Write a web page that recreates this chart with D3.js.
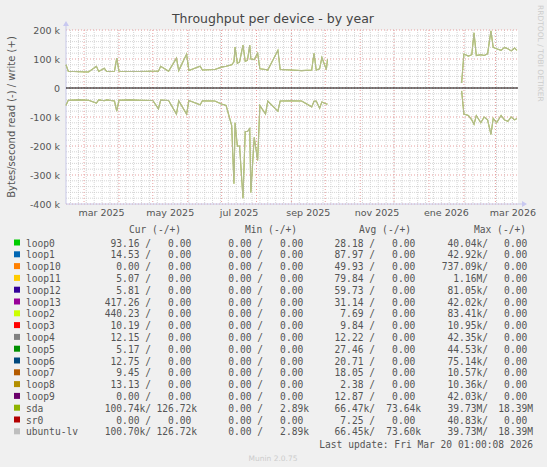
<!DOCTYPE html>
<html><head><meta charset="utf-8">
<script src="https://cdn.jsdelivr.net/npm/d3@7/dist/d3.min.js"></script>
<style>body{margin:0;background:#f0f0f0}svg{display:block}</style>
</head><body><svg id="c" width="547" height="467"></svg>
<script>
// ---- data ----
const dates = ["2025-02-13","2025-02-15","2025-02-25","2025-03-05","2025-03-12","2025-03-14","2025-03-19","2025-03-21","2025-03-28","2025-03-30","2025-04-01","2025-04-10","2025-04-20","2025-05-01","2025-05-06","2025-05-08","2025-05-15","2025-05-22","2025-05-24","2025-05-31","2025-06-02","2025-06-12","2025-06-14","2025-06-25","2025-07-01","2025-07-05","2025-07-10","2025-07-12","2025-07-13","2025-07-15","2025-07-17","2025-07-20","2025-07-22","2025-07-24","2025-07-26","2025-07-27","2025-07-30","2025-08-02","2025-08-04","2025-08-09","2025-08-11","2025-08-20","2025-08-22","2025-09-01","2025-09-10","2025-09-19","2025-09-21","2025-09-23","2025-09-26","2025-09-28","2025-10-02","2025-10-03",
"2026-01-29","2026-01-30","2026-02-01","2026-02-05","2026-02-08","2026-02-10","2026-02-12","2026-02-16","2026-02-19","2026-02-22","2026-02-25","2026-02-27","2026-03-02","2026-03-06","2026-03-09","2026-03-12","2026-03-15","2026-03-18","2026-03-20"];
const writeK = [80,58,56,55,75,57,68,57,58,103,58,57,57,58,58,75,58,103,60,117,60,75,62,64,72,75,80,90,141,85,90,148,92,95,148,100,98,120,66,64,62,130,64,62,60,62,120,62,66,105,64,100,
null,17,117,110,115,190,112,115,112,118,197,140,135,130,140,135,128,138,130];
const readK = [-60,-42,-41,-42,-52,-41,-44,-41,-45,-80,-42,-41,-42,-43,-72,-42,-43,-90,-44,-90,-43,-58,-44,-45,-55,-60,-130,-330,-120,-200,-200,-380,-150,-150,-140,-360,-170,-250,-60,-90,-45,-80,-45,-44,-45,-65,-46,-45,-70,-48,-55,-55,
null,-10,-90,-95,-110,-125,-95,-120,-100,-110,-160,-105,-120,-95,-110,-115,-100,-110,-105];
const yTicks = [200,100,0,-100,-200,-300,-400];
const xTickLabels = ["mar 2025","may 2025","jul 2025","sep 2025","nov 2025","ene 2026","mar 2026"];
const xTickMonths = ["2025-03-01","2025-05-01","2025-07-01","2025-09-01","2025-11-01","2026-01-01","2026-03-01"];
const devices = ["loop0","loop1","loop10","loop11","loop12","loop13","loop2","loop3","loop4","loop5","loop6","loop7","loop8","loop9","sda","sr0","ubuntu-lv"];
const colors = ["#00CC00","#0066B3","#FF8000","#FFCC00","#330099","#990099","#CCFF00","#FF0000","#808080","#008F00","#00487D","#B35A00","#B38F00","#6B006B","#8FB300","#B30000","#BEBEBE"];
const cur = [["93.16","0.00"],["14.53","0.00"],["0.00","0.00"],["5.07","0.00"],["5.81","0.00"],["417.26","0.00"],["440.23","0.00"],["10.19","0.00"],["12.15","0.00"],["5.17","0.00"],["12.75","0.00"],["9.45","0.00"],["13.13","0.00"],["0.00","0.00"],["100.74k","126.72k"],["0.00","0.00"],["100.70k","126.72k"]];
const mins = [["0.00","0.00"],["0.00","0.00"],["0.00","0.00"],["0.00","0.00"],["0.00","0.00"],["0.00","0.00"],["0.00","0.00"],["0.00","0.00"],["0.00","0.00"],["0.00","0.00"],["0.00","0.00"],["0.00","0.00"],["0.00","0.00"],["0.00","0.00"],["0.00","2.89k"],["0.00","0.00"],["0.00","2.89k"]];
const avgs = [["28.18","0.00"],["87.97","0.00"],["49.93","0.00"],["79.84","0.00"],["59.73","0.00"],["31.14","0.00"],["7.69","0.00"],["9.84","0.00"],["12.22","0.00"],["27.46","0.00"],["20.71","0.00"],["18.05","0.00"],["2.38","0.00"],["12.87","0.00"],["66.47k","73.64k"],["7.25","0.00"],["66.45k","73.60k"]];
const maxs = [["40.04k","0.00"],["42.92k","0.00"],["737.09k","0.00"],["1.16M","0.00"],["81.05k","0.00"],["42.02k","0.00"],["83.41k","0.00"],["10.95k","0.00"],["42.35k","0.00"],["44.53k","0.00"],["75.14k","0.00"],["10.57k","0.00"],["10.36k","0.00"],["42.03k","0.00"],["39.73M","18.39M"],["40.83k","0.00"],["39.73M","18.39M"]];

// ---- drawing ----
const svg = d3.select("#c");
const P = {l:66, r:518, t:30, b:204};
const parse = d3.timeParse("%Y-%m-%d");
const x = d3.scaleTime().domain([parse("2025-02-13"), parse("2026-03-21")]).range([P.l, P.r]);
const y = d3.scaleLinear().domain([-400,200]).range([P.b, P.t]);
svg.append("rect").attr("x",P.l).attr("y",P.t).attr("width",P.r-P.l).attr("height",P.b-P.t).attr("fill","#fff");
const g = svg.append("g");
d3.range(-400,201,20).forEach(v=>{ if(v%100) g.append("line").attr("x1",P.l).attr("x2",P.r).attr("y1",y(v)).attr("y2",y(v)).attr("stroke","#ccc").attr("stroke-dasharray","1,1").attr("stroke-width",0.8);});
d3.timeMonday.range(x.domain()[0], x.domain()[1]).forEach(d=>g.append("line").attr("x1",x(d)).attr("x2",x(d)).attr("y1",P.t).attr("y2",P.b).attr("stroke","#ccc").attr("stroke-dasharray","1,1").attr("stroke-width",0.8));
yTicks.forEach(v=>g.append("line").attr("x1",P.l).attr("x2",P.r).attr("y1",y(v)).attr("y2",y(v)).attr("stroke","#e8a0a0").attr("stroke-dasharray","1,2"));
d3.timeMonth.range(x.domain()[0], x.domain()[1]).forEach(d=>g.append("line").attr("x1",x(d)).attr("x2",x(d)).attr("y1",P.t).attr("y2",P.b).attr("stroke","#e8a0a0").attr("stroke-dasharray","1,2"));
svg.append("line").attr("x1",P.l).attr("x2",P.l).attr("y1",P.t-6).attr("y2",P.b).attr("stroke","#c8c8e8");
svg.append("line").attr("x1",P.l).attr("x2",P.r+6).attr("y1",P.b).attr("y2",P.b).attr("stroke","#c8c8e8");
svg.append("path").attr("d",`M${P.l-3},${P.t-4}L${P.l+3},${P.t-4}L${P.l},${P.t-9}Z`).attr("fill","#c8c8f0");
svg.append("path").attr("d",`M${P.r+4},${P.b-3}L${P.r+4},${P.b+3}L${P.r+9},${P.b}Z`).attr("fill","#c8c8f0");
yTicks.forEach(v=>svg.append("text").attr("x",P.l-6).attr("y",y(v)+3.5).attr("text-anchor","end").attr("font-family","DejaVu Sans").attr("font-size",9.5).attr("fill","#555").text(v===0?"0":`${v} k`));
xTickMonths.forEach((m,i)=>{const d=parse(m); const mid=new Date((+d + +d3.timeMonth.offset(d,1))/2);
 svg.append("text").attr("x",x(mid)).attr("y",216).attr("text-anchor","middle").attr("font-family","DejaVu Sans").attr("font-size",9.5).attr("fill","#555").text(xTickLabels[i]);});
const pts = dates.map((d,i)=>({d:parse(d), w:writeK[i], r:readK[i]}));
const lw = d3.line().defined(p=>p.w!==null).x(p=>x(p.d)).y(p=>y(p.w));
const lr = d3.line().defined(p=>p.r!==null).x(p=>x(p.d)).y(p=>y(p.r));
[[colors[14],1],[colors[16],0.75]].forEach(([c,o])=>{
 svg.append("path").attr("d",lw(pts)).attr("fill","none").attr("stroke",c).attr("stroke-opacity",o).attr("stroke-width",1.1);
 svg.append("path").attr("d",lr(pts)).attr("fill","none").attr("stroke",c).attr("stroke-opacity",o).attr("stroke-width",1.1);
});
svg.append("line").attr("x1",P.l).attr("x2",P.r).attr("y1",y(0)).attr("y2",y(0)).attr("stroke","#000");
svg.append("text").attr("x",273).attr("y",23).attr("text-anchor","middle").attr("font-family","DejaVu Sans").attr("font-size",12.5).attr("fill","#444").text("Throughput per device - by year");
svg.append("text").attr("transform",`translate(15,${(P.t+P.b)/2}) rotate(-90)`).attr("text-anchor","middle").attr("font-family","DejaVu Sans").attr("font-size",10).attr("fill","#555").text("Bytes/second read (-) / write (+)");
svg.append("text").attr("transform","translate(538,5) rotate(90)").attr("font-family","DejaVu Sans").attr("font-size",7.5).attr("fill","#ccc").text("RRDTOOL / TOBI OETIKER");
const mono = s=>s.attr("font-family","DejaVu Sans Mono").attr("font-size",9.6).attr("fill","#555").attr("xml:space","preserve");
[["Cur (-/+)",181],["Min (-/+)",297],["Avg (-/+)",411],["Max (-/+)",526]].forEach(([t,xe])=>mono(svg.append("text")).attr("x",xe).attr("y",232.5).attr("text-anchor","end").text(t));
const cols = [[cur,151,197],[mins,263,309],[avgs,375,421],[maxs,488,533]];
const fmt = v=>/[kM]$/.test(v)?v:v+" ";
devices.forEach((n,i)=>{const yy=246.5+i*11.8;
 svg.append("rect").attr("x",14).attr("y",yy-7).attr("width",6).attr("height",6).attr("fill",colors[i]);
 mono(svg.append("text")).attr("x",26).attr("y",yy).text(n);
 cols.forEach(([arr,x1,x2])=>{mono(svg.append("text")).attr("x",x1).attr("y",yy).attr("text-anchor","end").text(fmt(arr[i][0])+"/");
  mono(svg.append("text")).attr("x",x2).attr("y",yy).attr("text-anchor","end").text(fmt(arr[i][1]));});
});
mono(svg.append("text")).attr("x",533).attr("y",447.5).attr("text-anchor","end").text("Last update: Fri Mar 20 01:00:08 2026");
svg.append("text").attr("x",273).attr("y",461).attr("text-anchor","middle").attr("font-family","DejaVu Sans").attr("font-size",7.5).attr("fill","#ccc").text("Munin 2.0.75");
</script></body></html>
